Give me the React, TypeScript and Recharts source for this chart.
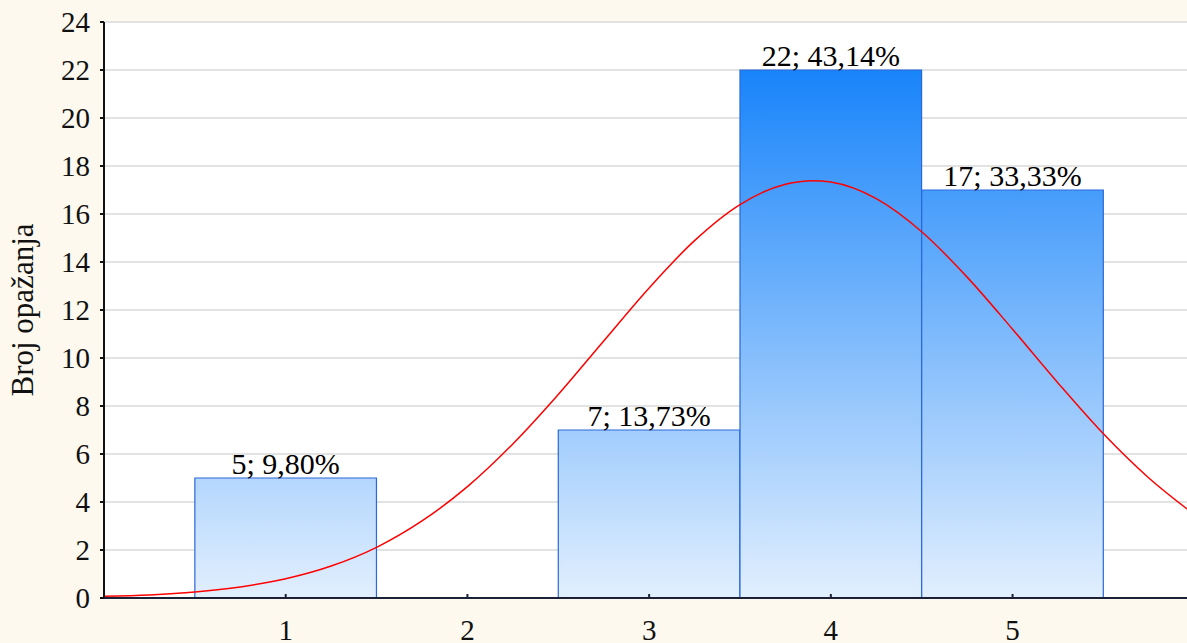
import { Bar, CartesianGrid, ComposedChart, LabelList, Line, XAxis, YAxis } from "recharts";

// histogram bins
const categories = [1, 2, 3, 4, 5];
const counts = [5, 0, 7, 22, 17];
const percentLabels = ["9,80%", "0,00%", "13,73%", "43,14%", "33,33%"];

// fitted normal curve
const curveX = [0, 0.25, 0.5, 0.75, 1, 1.25, 1.5, 1.75, 2, 2.25, 2.5, 2.75, 3, 3.25, 3.5, 3.75, 3.9, 4, 4.25, 4.5, 4.75, 5, 5.25, 5.5, 5.75, 6];
const curveY = [0.07, 0.13, 0.25, 0.46, 0.8, 1.33, 2.11, 3.21, 4.64, 6.42, 8.48, 10.71, 12.92, 14.89, 16.39, 17.24, 17.39, 17.33, 16.64, 15.26, 13.37, 11.2, 8.96, 6.84, 5.0, 3.48];

const yTicks = [0, 2, 4, 6, 8, 10, 12, 14, 16, 18, 20, 22, 24];

const FONT = "'Liberation Serif', 'Times New Roman', serif";
const X_DOMAIN: [number, number] = [0, 5.96];

const barRows = categories.map((x, i) => ({
  x,
  count: counts[i] > 0 ? counts[i] : null,
  label: counts[i] > 0 ? `${counts[i]}; ${percentLabels[i]}` : undefined,
}));

const curveRows = curveX.map((x, i) => ({ x, curve: curveY[i] }));

function YLabel({ viewBox }: { viewBox?: { x: number; y: number; width: number; height: number } }) {
  if (!viewBox) return null;
  const cx = viewBox.x + 33;
  const cy = viewBox.y + viewBox.height / 2;
  return (
    <text x={cx} y={cy} transform={`rotate(-90, ${cx}, ${cy})`} textAnchor="middle" fontSize={31} fontFamily={FONT} fill="#111">
      Broj opažanja
    </text>
  );
}

export default function App() {
  return (
    <div style={{ width: 1187, height: 643, background: "#fdf9ee" }}>
      <style>{`body{margin:0;}`}</style>
      <ComposedChart
        width={1187}
        height={643}
        data={barRows}
        barCategoryGap="0%"
        barGap={0}
        margin={{ top: 22, right: 0, left: 0, bottom: 0 }}
      >
        <defs>
          <linearGradient id="barFill" gradientUnits="userSpaceOnUse" x1="0" y1="70" x2="0" y2="598">
            <stop offset="0%" stopColor="#1884fa" />
            <stop offset="100%" stopColor="#e2effe" />
          </linearGradient>
        </defs>
        <CartesianGrid fill="#ffffff" stroke="#e2e2e2" strokeWidth={2} vertical={false} />
        {/* slightly under one bin width, otherwise recharts shrinks bars to 90% */}
        <Bar dataKey="count" fill="url(#barFill)" stroke="#2a68d8" strokeWidth={1.2} barSize={181.6} isAnimationActive={false}>
          <LabelList dataKey="label" position="top" offset={4} fill="#000" fontSize={30} fontFamily={FONT} />
        </Bar>
        <Line
          xAxisId="top"
          data={curveRows}
          dataKey="curve"
          type="monotone"
          stroke="#ff0000"
          strokeWidth={1.5}
          dot={false}
          activeDot={false}
          isAnimationActive={false}
        />
        <XAxis
          dataKey="x"
          type="number"
          domain={X_DOMAIN}
          allowDataOverflow
          ticks={categories}
          height={45}
          tickSize={-4}
          tickMargin={25}
          stroke="#1b2238"
          strokeWidth={2}
          tick={{ fontSize: 29, fontFamily: FONT, fill: "#111" }}
        />
        <XAxis
          xAxisId="top"
          dataKey="x"
          type="number"
          orientation="top"
          domain={X_DOMAIN}
          allowDataOverflow
          ticks={categories}
          height={0}
          tickSize={-4}
          tick={false}
          stroke="#111"
          strokeWidth={2}
        />
        <YAxis
          domain={[0, 24]}
          ticks={yTicks}
          interval={0}
          width={104}
          tickSize={4}
          tickMargin={10}
          stroke="#111"
          strokeWidth={2}
          tick={{ fontSize: 29, fontFamily: FONT, fill: "#111" }}
          label={<YLabel />}
        />
      </ComposedChart>
    </div>
  );
}
